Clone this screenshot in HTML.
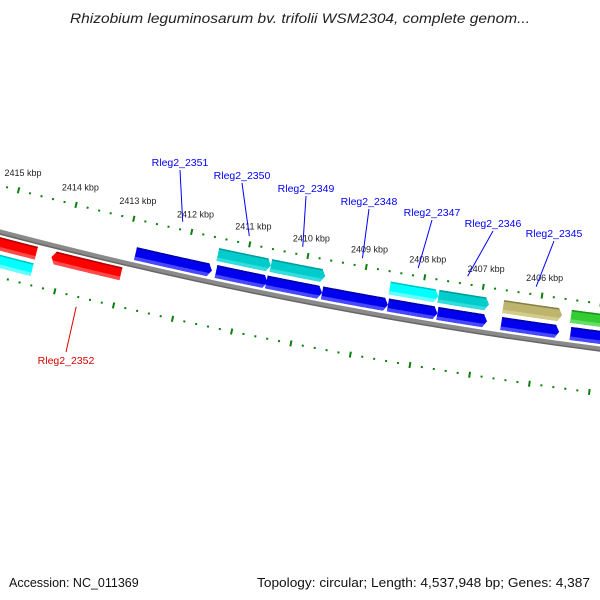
<!DOCTYPE html>
<html><head><meta charset="utf-8"><style>
html,body{margin:0;padding:0;background:#fff;}
svg{display:block;font-family:"Liberation Sans",sans-serif;}
</style></head><body>
<svg id="map" width="600" height="600" viewBox="0 0 600 600" xmlns="http://www.w3.org/2000/svg">
<rect width="600" height="600" fill="#fff"/>
<text x="70" y="23" textLength="460" lengthAdjust="spacingAndGlyphs" font-style="italic" font-size="13.5" fill="#222">Rhizobium leguminosarum bv. trifolii WSM2304, complete genom...</text>
<g id="plot"></g>
<text x="9" y="587" font-size="12.5" fill="#111">Accession: NC_011369</text>
<text x="257" y="587" textLength="333" lengthAdjust="spacingAndGlyphs" font-size="12.5" fill="#111">Topology: circular; Length: 4,537,948 bp; Genes: 4,387</text>
</svg>
<script>
// ---- data ----
const tickKbp = [2404, 2405, 2406, 2407, 2408, 2409, 2410, 2411, 2412, 2413, 2414, 2415, 2416];
const tickLabelKbp = [2406, 2407, 2408, 2409, 2410, 2411, 2412, 2413, 2414, 2415];
const geneStart = [2412.84, 2411.46, 2410.60, 2409.65, 2408.53, 2407.69, 2406.61, 2405.44, 2411.49, 2410.58, 2408.55, 2407.72, 2406.62, 2405.47, 2416.5, 2414.19, 2416.5];
const geneEnd   = [2411.53, 2410.58, 2409.65, 2408.53, 2407.69, 2406.85, 2405.63, 2404.3, 2410.58, 2409.65, 2407.72, 2406.86, 2405.62, 2404.3, 2414.45, 2413.00, 2414.45];
const geneStrand = [1,1,1,1,1,1,1,1, 1,1,1,1,1,1, -1,-1,-1];
const geneRow    = [1,1,1,1,1,1,1,1, 2,2,2,2,2,2, 1,1,2];
const geneColor  = ["blue","blue","blue","blue","blue","blue","blue","blue","teal","teal","cyan","teal","olive","green","red","red","cyan"];
const labelNames = ["Rleg2_2351","Rleg2_2350","Rleg2_2349","Rleg2_2348","Rleg2_2347","Rleg2_2346","Rleg2_2345","Rleg2_2352"];
const labelGene  = [0, 8, 9, 3, 10, 11, 12, 15];
// layout (pixel positions of label text centers)
const labelLayoutX = [180, 242, 306, 369, 432, 493, 554, 66];
const labelLayoutY = [162, 175, 188, 201, 212, 223, 233, 360];

// ---- geometry ----
const CX = 1220, CY = -4429, RB = 4818;
const RT = 4773, RL = 4862;
function ang(k){ return 98.166 + (k - 2406) * 0.7126; }
function P(r, deg){ const t = deg*Math.PI/180; return [CX + r*Math.cos(t), CY + r*Math.sin(t)]; }
const NS = "http://www.w3.org/2000/svg";
const plot = document.getElementById('plot');
function mk(tag, attrs, parent){ const e = document.createElementNS(NS, tag); for (const a in attrs) e.setAttribute(a, attrs[a]); (parent||plot).appendChild(e); return e; }
const palette = {
  blue:  ["#0000ee","#0000a8","#4848ff"],
  teal:  ["#00cccc","#009c9c","#33dddd"],
  cyan:  ["#00ffff","#00c4c4","#66ffff"],
  olive: ["#bdb56e","#857f48","#d2cb8c"],
  green: ["#33cc33","#1c941c","#66dd66"],
  red:   ["#ff0000","#b00000","#ff4a4a"]
};

// backbone
function arcPath(r){ const a = P(r, 107), b = P(r, 95); return `M${a[0]},${a[1]} A${r},${r} 0 0 0 ${b[0]},${b[1]}`; }
let bb = mk('path', {d: arcPath(RB), fill:'none', stroke:'#8a8a8a', 'stroke-width':5});


let bb2 = mk('path', {d: arcPath(RB+2), fill:'none', stroke:'#666', 'stroke-width':1.5});



// ticks
const tg = mk('g', {});


for (let i = 0; i < tickKbp.length - 1; i++) {
  for (let j = 0; j < 5; j++) {
    const k = tickKbp[i] + j * 0.2;
    const th = ang(k);
    [RT, RL].forEach(function(R){
      const len = j === 0 ? 3 : 1;
      const a = P(R - len, th), b = P(R + len, th);
      const ln = mk('line', {x1:a[0], y1:a[1], x2:b[0], y2:b[1], stroke:'#0a800a', 'stroke-width':2}, tg);
      
      
    });
  }
}
tickLabelKbp.forEach(function(k){
  const p = P(RT - 18, ang(k));
  const t = mk('text', {x:p[0], y:p[1]+3, 'text-anchor':'middle', 'font-size':9, fill:'#222'});
  t.textContent = k + ' kbp';
  
  
});

// genes
const H = 13, DELTA = 4 / 4800 * 180 / Math.PI;
function rowRange(strand, row){
  if (strand > 0) return row === 1 ? [RB-18, RB-5] : [RB-35, RB-22];
  return row === 1 ? [RB+5, RB+18] : [RB+22, RB+35];
}
function geneShape(k1, k2, dir, rin, rout, ra, rb){
  const rmid = (rin + rout) / 2;
  const tail = dir > 0 ? ang(k1) : ang(k2);
  const headBase = dir > 0 ? ang(k2) : ang(k1);
  const sgn = dir > 0 ? 1 : -1;
  function headAt(r){ return headBase + sgn * DELTA * Math.min(1, Math.abs(r - rmid) / (H/2)); }
  const pts = [];
  const N = 24;
  for (let i = 0; i <= N; i++) pts.push(P(ra, tail + (headAt(ra) - tail) * i / N));
  if (ra < rmid && rb > rmid) pts.push(P(rmid, headBase));
  for (let i = N; i >= 0; i--) pts.push(P(rb, tail + (headAt(rb) - tail) * i / N));
  return pts.map(function(p){ return p[0].toFixed(2)+','+p[1].toFixed(2); }).join(' ');
}
for (let i = 0; i < geneStart.length; i++) {
  const rr = rowRange(geneStrand[i], geneRow[i]);
  const c = palette[geneColor[i]];
  const g = mk('g', {});
  
  
  mk('polygon', {points: geneShape(geneStart[i], geneEnd[i], geneStrand[i], rr[0], rr[1], rr[0], rr[1]), fill:c[0]}, g);
  mk('polygon', {points: geneShape(geneStart[i], geneEnd[i], geneStrand[i], rr[0], rr[1], rr[0], rr[0]+1.5), fill:c[1]}, g);
  mk('polygon', {points: geneShape(geneStart[i], geneEnd[i], geneStrand[i], rr[0], rr[1], rr[1]-3.5, rr[1]), fill:c[2]}, g);
}

// gene labels
for (let i = 0; i < labelNames.length; i++) {
  const gi = labelGene[i];
  const mid = (geneStart[gi] + geneEnd[gi]) / 2;
  const isRev = geneStrand[gi] < 0;
  const end = isRev ? P(RL + 10, ang(mid)) : P(RT - 8, ang(mid));
  const col = isRev ? '#e00000' : '#0000ff';
  const ly = isRev ? labelLayoutY[i] - 8 : labelLayoutY[i] + 8;
  const ln = mk('line', {x1:labelLayoutX[i], y1:ly, x2:end[0], y2:end[1], stroke:col, 'stroke-width':1});
  
  
  const t = mk('text', {x:labelLayoutX[i], y:labelLayoutY[i]+4, 'text-anchor':'middle', 'font-size':10.5, fill:col});
  t.textContent = labelNames[i];
  
  
}
</script>
</body></html>
